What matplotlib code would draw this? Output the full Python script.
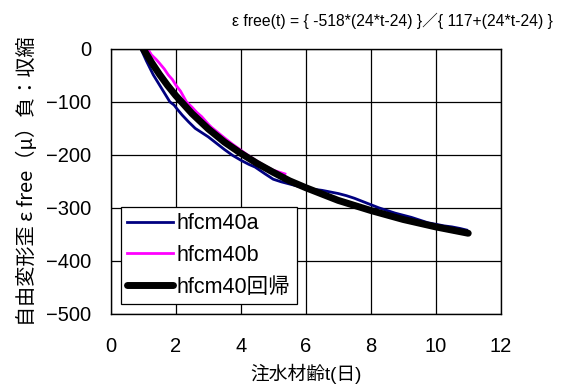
import matplotlib
matplotlib.use("Agg")
import matplotlib.pyplot as plt

plt.rcParams['font.family'] = ['Liberation Sans', 'Noto Sans CJK JP']

# hfcm40a
t_a = [0.93, 1.1, 1.31, 1.5, 1.65, 1.82, 1.95, 2.05, 2.2, 2.4, 2.6, 2.8, 3.0, 3.25,
       3.5, 3.75, 4.0, 4.25, 4.44, 4.75, 5.0, 5.25, 5.5, 5.75, 6.0, 6.25,
       6.5, 6.75, 7.0, 7.25, 7.5, 7.75, 8.0, 8.25, 8.5, 8.75, 9.0, 9.25, 9.5, 9.75,
       10.0, 10.25, 10.5, 10.75, 10.95]
v_a = [0, -23, -49, -68, -83, -100, -106, -114, -125, -138, -150, -158, -166, -178,
       -190, -201, -210, -218, -223, -236, -246, -251, -255, -259, -263, -265,
       -267, -270, -273, -277, -282, -288, -294, -300, -305, -310, -314, -318, -323, -328,
       -331, -334, -336, -339, -342]

# hfcm40b
t_b = [1.14, 1.25, 1.4, 1.5, 1.65, 1.77, 1.9, 2.0, 2.15, 2.33, 2.5, 2.65, 2.8, 3.0,
       3.1, 3.3, 3.5, 3.75, 4.0, 4.25, 4.5, 4.75, 5.0, 5.2, 5.36]
v_b = [0, -11, -20, -27, -38, -49, -58, -68, -80, -100, -110, -120, -128, -142,
       -148, -158, -168, -180, -191, -202, -212, -221, -229, -233, -236]

# hfcm40 regression
t_r = [1.0, 1.25, 1.5, 1.75, 2.0, 2.5, 3.0, 3.5, 4.0, 4.5, 5.0, 5.5, 6.0, 7.0, 8.0,
       9.0, 10.0, 11.0]
v_r = [0, -25, -48, -69, -88, -122, -151, -176, -197, -216, -233, -249, -262, -286,
       -305, -322, -336, -348]

fig = plt.figure(figsize=(5.62, 3.85), dpi=100)
ax = fig.add_axes([0.197, 0.185, 0.694, 0.688])

ax.plot(t_a, v_a, color='#000080', lw=2.0, label='hfcm40a')
ax.plot(t_b, v_b, color='#FF00FF', lw=2.0, label='hfcm40b')
ax.plot(t_r, v_r, color='black', lw=5, solid_capstyle='round', label='hfcm40回帰')

ax.set_xlim(0, 12)
ax.set_ylim(-500, 0)
ax.set_xticks(range(0, 13, 2))
ax.set_yticks(range(-500, 1, 100))
ax.grid(True, color='black', lw=0.9)
ax.set_axisbelow(True)
for s in ax.spines.values():
    s.set_linewidth(1.0)
ax.tick_params(length=0, labelsize=14.5)
ax.tick_params(axis='x', pad=17)
ax.tick_params(axis='y', pad=14)

ax.set_xlabel('注水材齢t(日)', fontsize=13.5, labelpad=5)
ax.set_ylabel('自由変形歪 ε free（μ）負：収縮', fontsize=14.5, labelpad=6,
              family=['Noto Sans CJK JP', 'DejaVu Sans'])

fig.text(0.699, 0.945, 'ε free(t) = { -518*(24*t-24) }／{ 117+(24*t-24) }',
         ha='center', va='center', fontsize=11.3)

leg = ax.legend(loc='lower left', bbox_to_anchor=(0.026, 0.036), borderaxespad=0,
                fontsize=15.5, frameon=True, fancybox=False, handlelength=2.1,
                handletextpad=0.2, labelspacing=0.5, borderpad=0.3)
leg.get_frame().set_edgecolor('black')
leg.get_frame().set_linewidth(0.9)
leg.get_frame().set_alpha(1)

fig.savefig('out.png', dpi=100)
